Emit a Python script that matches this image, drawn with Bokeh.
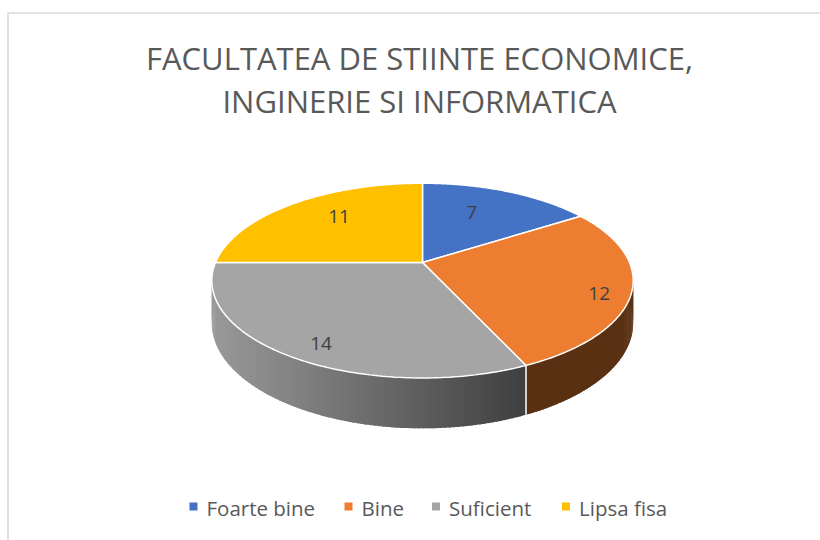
import numpy as np
from bokeh.plotting import figure
from bokeh.models import Range1d, ColumnDataSource
from bokeh.core.properties import value
from bokeh.embed import file_html
from bokeh.resources import INLINE

# ---------------- data ----------------
title_lines = ["FACULTATEA DE STIINTE ECONOMICE,", "INGINERIE SI INFORMATICA"]
categories = ["Foarte bine", "Bine", "Suficient", "Lipsa fisa"]
values = [7, 12, 14, 11]
colors = ["#4472C4", "#ED7D31", "#A5A5A5", "#FFC000"]

# ---------------- layout / style ----------------
W, H = 820, 540
CX, CY = 422.0, 262.0      # projected pie centre (apex of slices)
R, HR = 207.0, 94.0         # horizontal / vertical radius scale
K = 0.186                   # perspective strength
DEPTH = 41.0                # thickness of the pie
LABEL_R = [0.60, 0.85, 0.78, 0.60]
LABEL_DX = [-5, 0, -2, -2]
LABEL_DY = [-5, 7, 11, -9]
LEG_X = [193, 348, 435.5, 565.5]
LEG_Y = 507
TITLE_X = 419
TITLE_Y = [57, 100]
FONT = "Open Sans"
TXT = "#595959"


def proj(theta, r=1.0, z=0.0):
    theta = np.asarray(theta, dtype=float)
    u = r * np.sin(theta)
    v = -r * np.cos(theta)
    s = 1.0 / (1.0 - K * v)
    return CX + R * u * s, CY + HR * v * s + z * s


def shade(hex_color, f):
    h = hex_color.lstrip("#")
    rgb = [int(h[i:i + 2], 16) for i in (0, 2, 4)]
    return "#%02x%02x%02x" % tuple(int(round(c * f)) for c in rgb)


def light(x):
    x_left = CX - R * 1.02
    x_dark = CX + 0.5 * R
    t = (x - x_left) / (x_dark - x_left)
    return float(np.clip(0.93 - 0.55 * t, 0.38, 0.93))


total = float(sum(values))
bounds = np.concatenate([[0.0], np.cumsum(values) / total * 2 * np.pi])

p = figure(width=W, height=H, x_range=Range1d(0, W), y_range=Range1d(H, 0),
           output_backend="svg", toolbar_location=None,
           x_axis_type=None, y_axis_type=None, min_border=0)
p.outline_line_color = None
p.grid.visible = False
p.background_fill_color = "white"
p.border_fill_color = "white"

# chart-area border
p.line([7.5, 7.5, W + 20], [H + 20, 12.5, 12.5], line_color="#d9d9d9", line_width=1.6)

# ---------------- sides (front half only) ----------------
side_xs, side_ys, side_cols = [], [], []
vis0, vis1 = np.pi / 2, 3 * np.pi / 2
step = np.pi / 180
for i in range(len(values)):
    a0 = max(bounds[i], vis0)
    a1 = min(bounds[i + 1], vis1)
    if a1 <= a0:
        continue
    n = max(2, int((a1 - a0) / step))
    th = np.linspace(a0, a1, n + 1)
    for j in range(n):
        # each strip overlaps the next one a little to avoid seams
        tt = np.linspace(th[j], min(th[j + 1] + 0.6 * step, a1), 3)
        xt, yt = proj(tt)
        xb, yb = proj(tt, z=DEPTH)
        side_xs.append(list(xt) + list(xb[::-1]))
        side_ys.append(list(yt) + list(yb[::-1]))
        side_cols.append(shade(colors[i], light(xt.mean())))
p.patches(xs=side_xs, ys=side_ys, fill_color=side_cols, line_color=None)

# white vertical edges at slice boundaries on the visible side
for b in bounds[1:-1]:
    if vis0 < b < vis1:
        xt, yt = proj([b])
        xb, yb = proj([b], z=DEPTH)
        p.line([xt[0], xb[0]], [yt[0], yb[0]], line_color="white", line_width=1.5)

# ---------------- top faces ----------------
top_xs, top_ys = [], []
for i in range(len(values)):
    th = np.linspace(bounds[i], bounds[i + 1], 120)
    x, y = proj(th)
    top_xs.append([CX] + list(x) + [CX])
    top_ys.append([CY] + list(y) + [CY])
src = ColumnDataSource(dict(xs=top_xs, ys=top_ys, color=colors, cat=categories))
p.patches(xs="xs", ys="ys", fill_color="color", line_color="white", line_width=1.5, source=src)

# ---------------- data labels ----------------
mids = (bounds[:-1] + bounds[1:]) / 2
lx, ly = [], []
for m, r, dx, dy in zip(mids, LABEL_R, LABEL_DX, LABEL_DY):
    x, y = proj([m], r=r)
    lx.append(x[0] + dx); ly.append(y[0] + dy)
p.text(x=lx, y=ly, text=[str(v) for v in values], text_align="center", text_baseline="middle",
       text_font=value(FONT), text_font_size="19px", text_color="#404040")

# ---------------- title ----------------
p.text(x=[TITLE_X] * len(title_lines), y=TITLE_Y, text=title_lines, text_align="center",
       text_baseline="middle", text_font=value(FONT), text_font_size="31px", text_color=TXT)

# ---------------- legend ----------------
p.rect(x=LEG_X, y=[LEG_Y - 1] * 4, width=8, height=8, fill_color=colors, line_color=None)
p.text(x=[x + 13 for x in LEG_X], y=[LEG_Y] * 4, text=categories, text_align="left",
       text_baseline="middle", text_font=value(FONT), text_font_size="20.5px", text_color=TXT)

open("out.html", "w").write(file_html(p, INLINE))
